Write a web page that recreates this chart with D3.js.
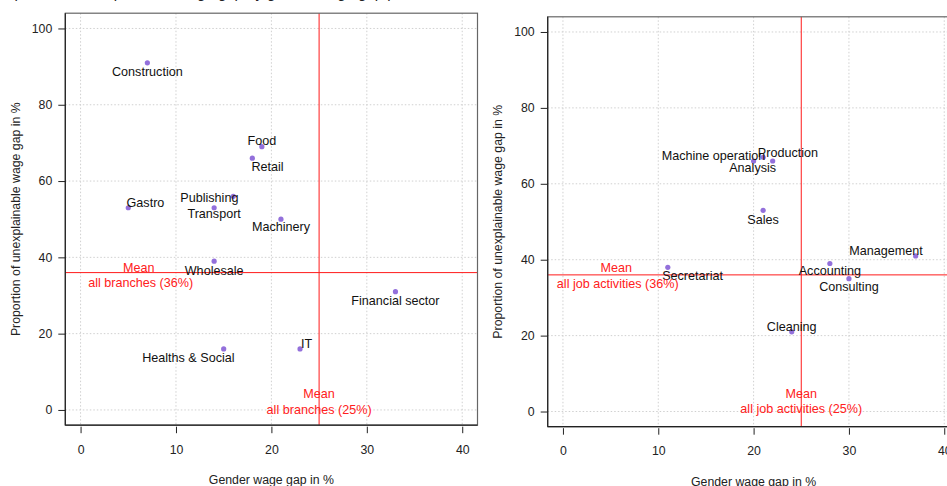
<!DOCTYPE html>
<html>
<head>
<meta charset="utf-8">
<script src="https://cdn.jsdelivr.net/npm/d3@7"></script>
<style>
body { margin: 0; background: #fff; }
svg { display: block; font-family: "Liberation Sans", Arial, sans-serif; }
</style>
</head>
<body>
<svg id="chart" width="947" height="486"></svg>
<script>
// left panel: branches
var branchNames = ["Construction", "Food", "Retail", "Gastro", "Publishing", "Transport", "Machinery",
	"Wholesale", "Financial sector", "IT", "Healths & Social"];
var branchGap = [7, 19, 18, 5, 16, 14, 21, 14, 33, 23, 15];
var branchUnexpl = [91, 69, 66, 53, 56, 53, 50, 39, 31, 16, 16];
// where the labels were put (data units)
var branchLabelX = [7, 19, 19.6, 6.8, 13.5, 14, 21, 14, 33, 23.7, 11.3];
var branchLabelY = [88.8, 70.5, 63.9, 54.4, 55.7, 51.4, 48.1, 36.6, 28.7, 17.5, 13.8];

// right panel: job activities
var jobNames = ["Machine operation", "Analysis", "Production", "Sales", "Management", "Accounting",
	"Consulting", "Secretariat", "Cleaning"];
var jobGap = [20, 21, 22, 21, 37, 28, 30, 11, 24];
var jobUnexpl = [66, 67, 66, 53, 41, 39, 35, 38, 21];
var jobLabelX = [15.8, 19.9, 23.6, 21, 33.9, 28, 30, 13.6, 24];
var jobLabelY = [67.5, 64.4, 68.3, 50.7, 42.4, 37.15, 32.9, 35.8, 22.4];

var meanGap = 25;
var meanUnexpl = 36;
var xTicks = [0, 10, 20, 30, 40];
var yTicks = [0, 20, 40, 60, 80, 100];

var svg = d3.select("#chart");

// title is cut off at the top of the picture
svg.append("text")
	.attr("x", 225).attr("y", -2)
	.attr("text-anchor", "middle")
	.attr("font-size", 15)
	.attr("fill", "#222")
	.text("Proportion of unexplainable wage gap by gender wage gap per branch");

function drawPanel(p) {
	var x = d3.scaleLinear().domain([-1.6, 41.6]).range([p.left, p.right]);
	var y = d3.scaleLinear().domain([-4, 104]).range([p.bottom, p.top]);
	var g = svg.append("g");

	// grid
	g.selectAll(".gx").data(xTicks).enter().append("line")
		.attr("x1", function(d){ return x(d); }).attr("x2", function(d){ return x(d); })
		.attr("y1", p.top).attr("y2", p.bottom)
		.attr("stroke", "#d0d0d0").attr("stroke-dasharray", "1.5,2");
	g.selectAll(".gy").data(yTicks).enter().append("line")
		.attr("x1", p.left).attr("x2", p.right)
		.attr("y1", function(d){ return y(d); }).attr("y2", function(d){ return y(d); })
		.attr("stroke", "#d0d0d0").attr("stroke-dasharray", "1.5,2");

	// mean lines
	g.append("line")
		.attr("x1", p.left).attr("x2", p.right)
		.attr("y1", y(meanUnexpl)).attr("y2", y(meanUnexpl))
		.attr("stroke", "#ff1a1a").attr("stroke-width", 1);
	g.append("line")
		.attr("x1", x(meanGap)).attr("x2", x(meanGap))
		.attr("y1", p.top).attr("y2", p.bottom)
		.attr("stroke", "#ff1a1a").attr("stroke-width", 1);

	// box
	g.append("rect")
		.attr("x", p.left).attr("y", p.top)
		.attr("width", p.right - p.left).attr("height", p.bottom - p.top)
		.attr("fill", "none").attr("stroke", "#666").attr("stroke-width", 1.2);
	g.append("line").attr("x1", p.left).attr("x2", p.left).attr("y1", p.top).attr("y2", p.bottom)
		.attr("stroke", "#222").attr("stroke-width", 1.2);
	g.append("line").attr("x1", p.left).attr("x2", p.right).attr("y1", p.bottom).attr("y2", p.bottom)
		.attr("stroke", "#222").attr("stroke-width", 1.2);

	// axes
	var xAxis = g.append("g")
		.attr("transform", "translate(0," + (p.bottom + 1.5) + ")")
		.call(d3.axisBottom(x).tickValues(xTicks).tickSize(6.5).tickSizeOuter(0).tickPadding(12));
	var yAxis = g.append("g")
		.attr("transform", "translate(" + p.left + ",0)")
		.call(d3.axisLeft(y).tickValues(yTicks).tickSize(7).tickSizeOuter(0).tickPadding(6));
	[xAxis, yAxis].forEach(function(a){
		a.select(".domain").remove();
		a.selectAll("line").attr("stroke", "#222");
		a.selectAll("text").attr("font-size", 12.3).attr("fill", "#222")
			.attr("font-family", "Liberation Sans, Arial, sans-serif");
	});

	g.append("text")
		.attr("x", (x(0) + x(40)) / 2).attr("y", p.bottom + 59)
		.attr("text-anchor", "middle").attr("font-size", 12.3).attr("fill", "#222")
		.text("Gender wage gap in %");
	g.append("text")
		.attr("transform", "translate(" + p.yLabelX + "," + ((p.top + p.bottom) / 2) + ") rotate(-90)")
		.attr("text-anchor", "middle").attr("dy", "0.35em")
		.attr("font-size", 12.3).attr("fill", "#222")
		.text("Proportion of unexplainable wage gap in %");

	// points
	g.selectAll(".pt").data(p.names).enter().append("circle")
		.attr("cx", function(d, i){ return x(p.gap[i]); })
		.attr("cy", function(d, i){ return y(p.unexpl[i]); })
		.attr("r", 2.6)
		.attr("fill", "#9370db");

	// labels
	g.selectAll(".lab").data(p.names).enter().append("text")
		.attr("x", function(d, i){ return x(p.labelX[i]); })
		.attr("y", function(d, i){ return y(p.labelY[i]); })
		.attr("dy", "0.35em")
		.attr("text-anchor", "middle")
		.attr("font-size", 12.6).attr("fill", "#111")
		.text(function(d){ return d; });

	// mean labels
	var red = "#ff2020";
	p.meanText.forEach(function(m){
		g.append("text")
			.attr("x", x(m.x)).attr("y", y(m.y)).attr("dy", "0.35em")
			.attr("text-anchor", "middle").attr("font-size", 12.6).attr("fill", red)
			.text(m.text);
	});
}

drawPanel({
	left: 65.3, right: 477.5, top: 13.2, bottom: 425.2, yLabelX: 16,
	names: branchNames, gap: branchGap, unexpl: branchUnexpl,
	labelX: branchLabelX, labelY: branchLabelY,
	meanText: [
		{ x: 6.1, y: 37.35, text: "Mean" },
		{ x: 6.3, y: 33.4, text: "all branches (36%)" },
		{ x: 25, y: 4.2, text: "Mean" },
		{ x: 25, y: 0, text: "all branches (25%)" }
	]
});

drawPanel({
	left: 547.7, right: 959.5, top: 16.8, bottom: 426.7, yLabelX: 498,
	names: jobNames, gap: jobGap, unexpl: jobUnexpl,
	labelX: jobLabelX, labelY: jobLabelY,
	meanText: [
		{ x: 5.6, y: 37.8, text: "Mean" },
		{ x: 5.75, y: 33.6, text: "all job activities (36%)" },
		{ x: 25, y: 4.6, text: "Mean" },
		{ x: 25, y: 0.66, text: "all job activities (25%)" }
	]
});
</script>
</body>
</html>
